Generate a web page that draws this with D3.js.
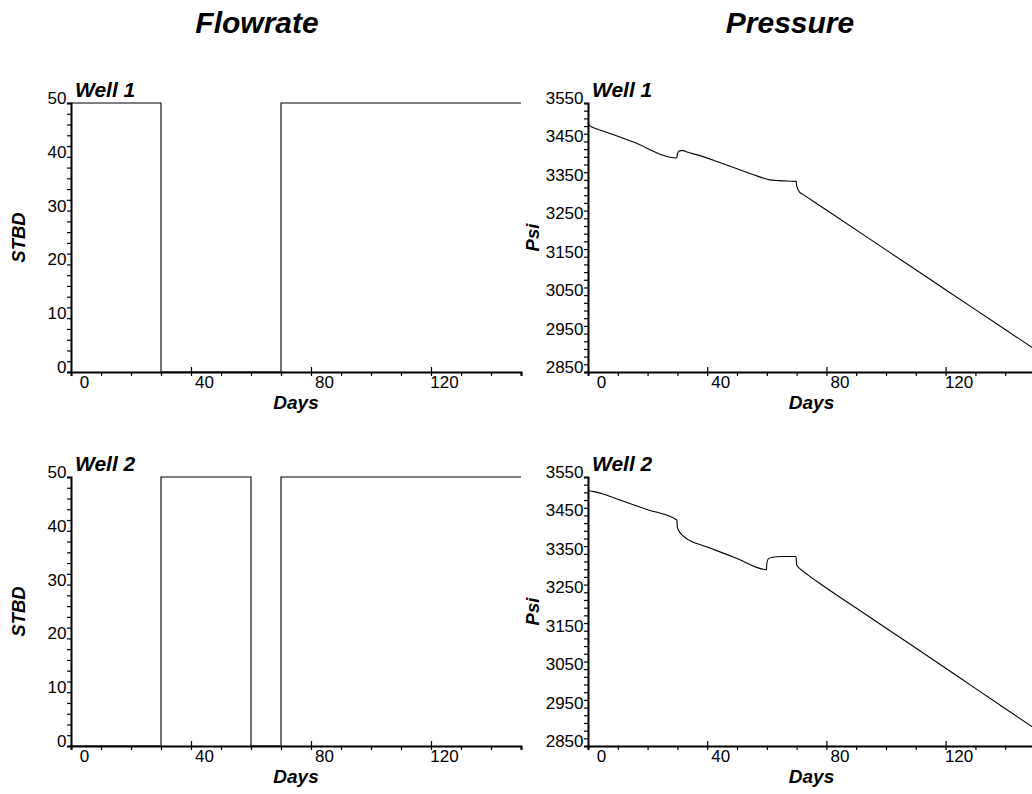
<!DOCTYPE html>
<html>
<head>
<meta charset="utf-8">
<script src="https://cdn.jsdelivr.net/npm/d3@7"></script>
<style>
  body { margin: 0; background: #fff; }
  svg { display: block; }
  text { font-family: "Liberation Sans", Arial, sans-serif; fill: #000; }
</style>
</head>
<body>
<svg id="chart" width="1032" height="794"></svg>
<script>
// ---- data ----------------------------------------------------------------
const wellNames = ["Well 1", "Well 2"];
const columnTitles = ["Flowrate", "Pressure"];

// Flow schedule (step changes, value holds until next day listed)
const rateDays1 = [0, 30, 70, 150];
const rateValues1 = [50, 0, 50, 50];
const rateDays2 = [0, 30, 60, 70, 150];
const rateValues2 = [0, 50, 0, 50, 50];

// Bottom-hole pressure response
const pressureDays1 = [0, 0.3, 0.8, 1.7, 3, 6.2, 15, 29.8, 30, 30.5, 31, 32, 33, 37.5, 44.2, 50, 56, 59, 61, 64, 69.9, 70, 70.3, 71, 72, 80, 100, 120, 140, 150];
const pressureValues1 = [3498, 3494, 3490, 3486, 3482.5, 3474, 3449, 3407, 3418, 3424, 3426, 3426, 3423, 3413, 3395, 3379, 3362, 3354, 3350, 3348, 3346, 3336, 3328, 3318, 3312.8, 3271.4, 3167.8, 3064.2, 2960.6, 2908.8];
const pressureDays2 = [0, 2, 5, 10, 20, 29.8, 30, 30.5, 31, 32, 33, 34.1, 40, 50, 59.9, 60, 60.5, 62, 65, 69.8, 70, 70.5, 71, 74, 77.8, 90, 110, 130, 150];
const pressureValues2 = [3515, 3512, 3506, 3492, 3465, 3438, 3418, 3410, 3404, 3396, 3390, 3385, 3368, 3338, 3309, 3325, 3337, 3341, 3343, 3343, 3322, 3316, 3312, 3294, 3273, 3209, 3105, 3000, 2895];

// Axis ticks
const dayTicks = d3.range(0, 151, 10);
const dayTickLabels = [0, 40, 80, 120];
const rateTicks = d3.range(0, 51, 2);
const rateTickLabels = [0, 10, 20, 30, 40, 50];
const pressureTicks = d3.range(2850, 3551, 20);
const pressureTickLabels = [2850, 2950, 3050, 3150, 3250, 3350, 3450, 3550];

// ---- layout --------------------------------------------------------------
const svg = d3.select("#chart");
const rows = [{ top: 103, bottom: 372 }, { top: 477, bottom: 746 }];
const cols = [
  { left: 71, width: 450, yDomain: [0, 50], ticks: rateTicks, labels: rateTickLabels, yTitle: "STBD", yTitleX: 25 },
  { left: 588, width: 447, yDomain: [2850, 3550], ticks: pressureTicks, labels: pressureTickLabels, yTitle: "Psi", yTitleX: 539 }
];

const series = [
  [{ days: rateDays1, values: rateValues1, step: true }, { days: pressureDays1, values: pressureValues1, step: false }],
  [{ days: rateDays2, values: rateValues2, step: true }, { days: pressureDays2, values: pressureValues2, step: false }]
];

// Column titles
svg.selectAll("text.coltitle")
  .data(columnTitles)
  .join("text")
  .attr("class", "coltitle")
  .attr("x", (d, i) => i === 0 ? 257 : 790)
  .attr("y", 33)
  .attr("text-anchor", "middle")
  .style("font-size", "30px")
  .style("font-weight", "bold")
  .style("font-style", "italic")
  .text(d => d);

rows.forEach((row, r) => {
  cols.forEach((col, c) => {
    const x = d3.scaleLinear().domain([0, 150]).range([col.left, col.left + col.width]);
    const y = d3.scaleLinear().domain(col.yDomain).range([row.bottom, row.top]);
    const g = svg.append("g");

    // data line
    const s = series[r][c];
    const pts = s.days.map((d, i) => [d, s.values[i]]);
    const line = d3.line()
      .x(d => x(d[0]))
      .y(d => y(d[1]))
      .curve(s.step ? d3.curveStepAfter : d3.curveMonotoneX);
    g.append("path")
      .attr("d", line(pts))
      .attr("fill", "none")
      .attr("stroke", "#000")
      .attr("stroke-width", 1.1);

    // x axis
    const xa = g.append("g")
      .attr("transform", `translate(0,${row.bottom})`)
      .call(d3.axisBottom(x).tickValues(dayTicks).tickSize(4).tickFormat(""));
    xa.select(".domain").attr("stroke-width", 2);
    xa.selectAll(".tick line").attr("stroke-width", 1.2);
    xa.selectAll(".tick")
      .filter(d => dayTickLabels.includes(d) && d !== 0)
      .select("line").attr("y1", -5);
    xa.selectAll("text.dlab")
      .data(dayTickLabels)
      .join("text")
      .attr("class", "dlab")
      .attr("x", d => x(d) + 13.5)
      .attr("y", 16)
      .attr("text-anchor", "middle")
      .style("font-size", "17px")
      .text(d => d);

    // y axis
    const ya = g.append("g")
      .attr("transform", `translate(${col.left},0)`)
      .call(d3.axisLeft(y).tickValues(col.ticks).tickSize(4).tickFormat(""));
    ya.select(".domain").attr("stroke-width", 2);
    ya.selectAll(".tick line").attr("stroke-width", 1.2);
    ya.selectAll("text.vlab")
      .data(col.labels)
      .join("text")
      .attr("class", "vlab")
      .attr("x", -4.5)
      .attr("y", d => y(d) + 1)
      .attr("text-anchor", "end")
      .style("font-size", "17px")
      .text(d => d);

    // well label
    g.append("text")
      .attr("x", col.left + 4)
      .attr("y", row.top - 6)
      .style("font-size", "21px")
      .style("font-weight", "bold")
      .style("font-style", "italic")
      .text(wellNames[r]);

    // x title
    g.append("text")
      .attr("x", col.left + col.width / 2)
      .attr("y", row.bottom + 37)
      .attr("text-anchor", "middle")
      .style("font-size", "19px")
      .style("font-weight", "bold")
      .style("font-style", "italic")
      .text("Days");

    // y title
    g.append("text")
      .attr("transform", `translate(${col.yTitleX},${(row.top + row.bottom) / 2}) rotate(-90)`)
      .attr("text-anchor", "middle")
      .style("font-size", "18.5px")
      .style("font-weight", "bold")
      .style("font-style", "italic")
      .text(col.yTitle);
  });
});
</script>
</body>
</html>
